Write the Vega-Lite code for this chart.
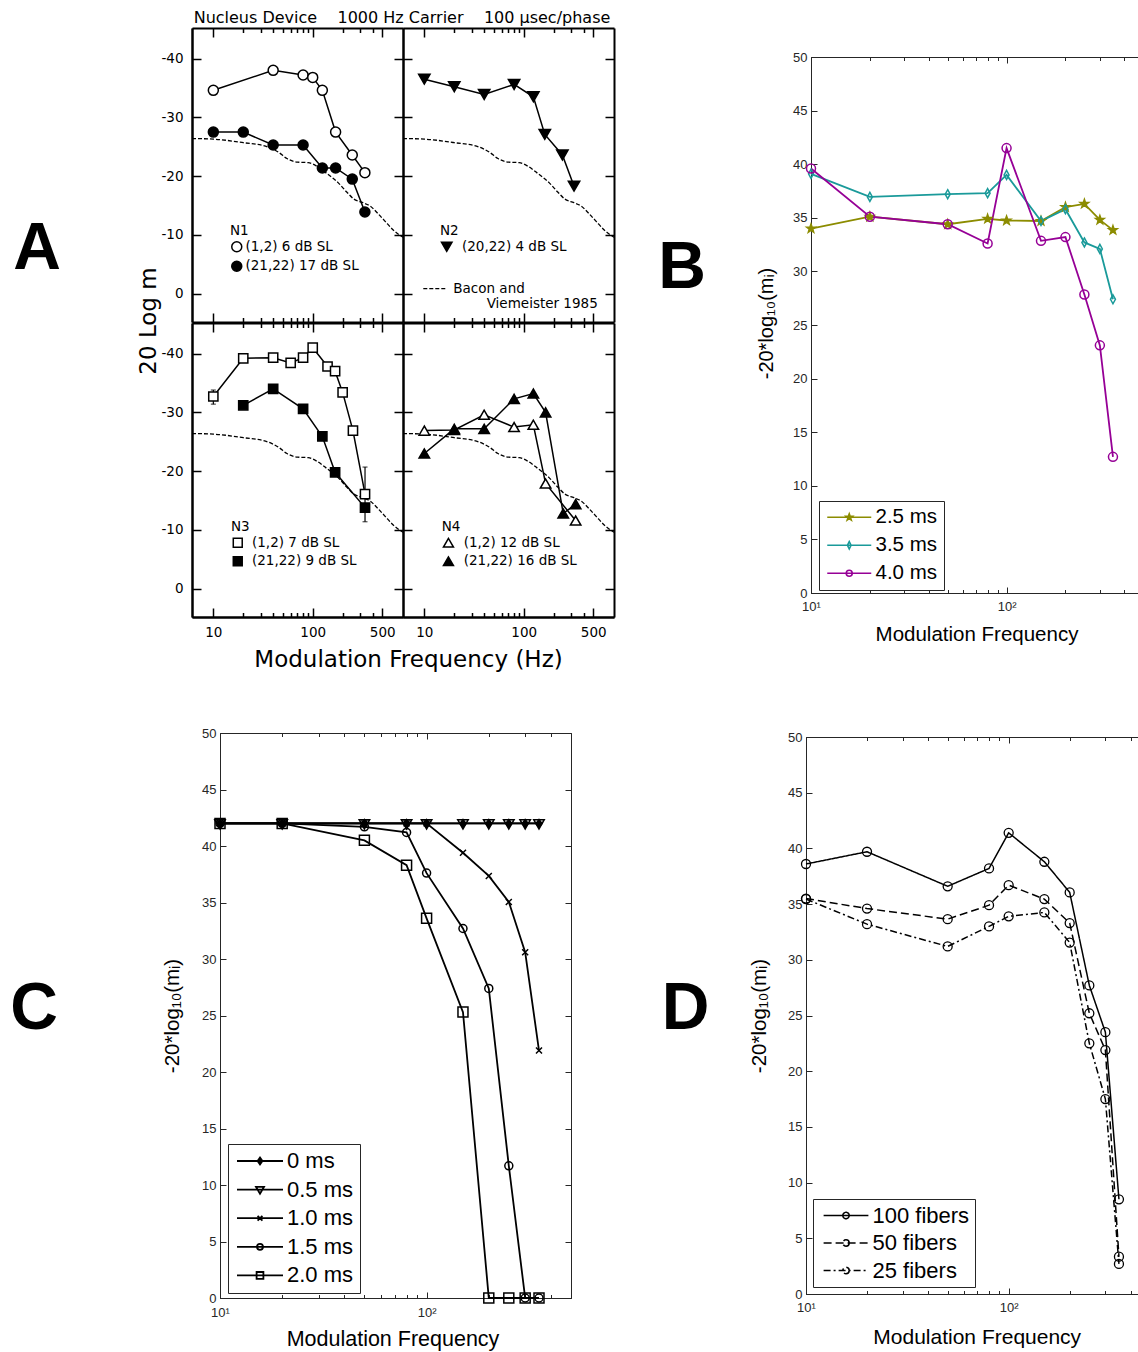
{
"$schema": "https://vega.github.io/schema/vega-lite/v6.json",
"width": 1138, "height": 1352,
"autosize": {"type": "none"},
"padding": 0,
"background": "white",
"config": {"view": {"stroke": null}, "axis": {"grid": false}},
"datasets": {
"bv": [{"f":6.1,"v":-26.4},{"f":10,"v":-26.3},{"f":20,"v":-25.7},{"f":35,"v":-25.0},{"f":45,"v":-24.1},{"f":55,"v":-23.0},{"f":70,"v":-22.4},{"f":90,"v":-22.3},{"f":110,"v":-21.7},{"f":140,"v":-20.4},{"f":180,"v":-18.9},{"f":220,"v":-17.3},{"f":260,"v":-16.1},{"f":320,"v":-15.5},{"f":380,"v":-14.9},{"f":450,"v":-13.7},{"f":530,"v":-12.4},{"f":650,"v":-10.8},{"f":810,"v":-9.6}],
"n1": [{"f":10,"v":-34.6,"s":"(1,2) 6 dB SL"},{"f":40,"v":-38.0,"s":"(1,2) 6 dB SL"},{"f":80,"v":-37.2,"s":"(1,2) 6 dB SL"},{"f":100,"v":-36.8,"s":"(1,2) 6 dB SL"},{"f":125,"v":-34.6,"s":"(1,2) 6 dB SL"},{"f":170,"v":-27.5,"s":"(1,2) 6 dB SL"},{"f":250,"v":-23.6,"s":"(1,2) 6 dB SL"},{"f":335,"v":-20.6,"s":"(1,2) 6 dB SL"},
{"f":10,"v":-27.5,"s":"(21,22) 17 dB SL"},{"f":20,"v":-27.5,"s":"(21,22) 17 dB SL"},{"f":40,"v":-25.3,"s":"(21,22) 17 dB SL"},{"f":80,"v":-25.3,"s":"(21,22) 17 dB SL"},{"f":125,"v":-21.4,"s":"(21,22) 17 dB SL"},{"f":170,"v":-21.4,"s":"(21,22) 17 dB SL"},{"f":250,"v":-19.5,"s":"(21,22) 17 dB SL"},{"f":335,"v":-13.9,"s":"(21,22) 17 dB SL"}],
"n2": [{"f":10,"v":-36.5,"s":"(20,22) 4 dB SL"},{"f":20,"v":-35.2,"s":"(20,22) 4 dB SL"},{"f":40,"v":-33.9,"s":"(20,22) 4 dB SL"},{"f":80,"v":-35.6,"s":"(20,22) 4 dB SL"},{"f":125,"v":-33.5,"s":"(20,22) 4 dB SL"},{"f":163,"v":-27.1,"s":"(20,22) 4 dB SL"},{"f":245,"v":-23.6,"s":"(20,22) 4 dB SL"},{"f":321,"v":-18.3,"s":"(20,22) 4 dB SL"}],
"n3": [{"f":10,"v":-32.7,"s":"(1,2) 7 dB SL"},{"f":20,"v":-39.2,"s":"(1,2) 7 dB SL"},{"f":40,"v":-39.3,"s":"(1,2) 7 dB SL"},{"f":60,"v":-38.4,"s":"(1,2) 7 dB SL"},{"f":80,"v":-39.3,"s":"(1,2) 7 dB SL"},{"f":100,"v":-41.0,"s":"(1,2) 7 dB SL"},{"f":141,"v":-37.8,"s":"(1,2) 7 dB SL"},{"f":168,"v":-37.0,"s":"(1,2) 7 dB SL"},{"f":200,"v":-33.4,"s":"(1,2) 7 dB SL"},{"f":254,"v":-26.9,"s":"(1,2) 7 dB SL"},{"f":336,"v":-16.1,"s":"(1,2) 7 dB SL"},
{"f":20,"v":-31.2,"s":"(21,22) 9 dB SL"},{"f":40,"v":-34.0,"s":"(21,22) 9 dB SL"},{"f":80,"v":-30.6,"s":"(21,22) 9 dB SL"},{"f":125,"v":-25.9,"s":"(21,22) 9 dB SL"},{"f":168,"v":-19.8,"s":"(21,22) 9 dB SL"},{"f":336,"v":-13.8,"s":"(21,22) 9 dB SL"}],
"n3err": [{"f":10,"lo":-33.8,"hi":-31.4},{"f":336,"lo":-20.7,"hi":-11.4}],
"n4": [{"f":10,"v":-26.9,"s":"(1,2) 12 dB SL"},{"f":20,"v":-27.0,"s":"(1,2) 12 dB SL"},{"f":40,"v":-29.6,"s":"(1,2) 12 dB SL"},{"f":80,"v":-27.5,"s":"(1,2) 12 dB SL"},{"f":125,"v":-27.9,"s":"(1,2) 12 dB SL"},{"f":166,"v":-17.9,"s":"(1,2) 12 dB SL"},{"f":333,"v":-11.6,"s":"(1,2) 12 dB SL"},
{"f":10,"v":-23.0,"s":"(21,22) 16 dB SL"},{"f":20,"v":-27.2,"s":"(21,22) 16 dB SL"},{"f":40,"v":-27.2,"s":"(21,22) 16 dB SL"},{"f":80,"v":-32.3,"s":"(21,22) 16 dB SL"},{"f":125,"v":-33.2,"s":"(21,22) 16 dB SL"},{"f":166,"v":-30.0,"s":"(21,22) 16 dB SL"},{"f":250,"v":-12.8,"s":"(21,22) 16 dB SL"},{"f":333,"v":-14.4,"s":"(21,22) 16 dB SL"}],
"b": [{"f":10,"v":34.0,"s":"2.5 ms"},{"f":20,"v":35.1,"s":"2.5 ms"},{"f":50,"v":34.4,"s":"2.5 ms"},{"f":80,"v":34.9,"s":"2.5 ms"},{"f":100,"v":34.75,"s":"2.5 ms"},{"f":150,"v":34.7,"s":"2.5 ms"},{"f":200,"v":36.0,"s":"2.5 ms"},{"f":250,"v":36.3,"s":"2.5 ms"},{"f":300,"v":34.8,"s":"2.5 ms"},{"f":350,"v":33.85,"s":"2.5 ms"},
{"f":10,"v":39.1,"s":"3.5 ms"},{"f":20,"v":36.95,"s":"3.5 ms"},{"f":50,"v":37.2,"s":"3.5 ms"},{"f":80,"v":37.3,"s":"3.5 ms"},{"f":100,"v":39.0,"s":"3.5 ms"},{"f":150,"v":34.7,"s":"3.5 ms"},{"f":200,"v":35.8,"s":"3.5 ms"},{"f":250,"v":32.7,"s":"3.5 ms"},{"f":300,"v":32.1,"s":"3.5 ms"},{"f":350,"v":27.4,"s":"3.5 ms"},
{"f":10,"v":39.6,"s":"4.0 ms"},{"f":20,"v":35.1,"s":"4.0 ms"},{"f":50,"v":34.4,"s":"4.0 ms"},{"f":80,"v":32.6,"s":"4.0 ms"},{"f":100,"v":41.5,"s":"4.0 ms"},{"f":150,"v":32.85,"s":"4.0 ms"},{"f":200,"v":33.2,"s":"4.0 ms"},{"f":250,"v":27.85,"s":"4.0 ms"},{"f":300,"v":23.1,"s":"4.0 ms"},{"f":350,"v":12.7,"s":"4.0 ms"}],
"c": [{"f":10,"v":42,"s":"0 ms"},{"f":20,"v":42,"s":"0 ms"},{"f":50,"v":42,"s":"0 ms"},{"f":80,"v":42,"s":"0 ms"},{"f":100,"v":42,"s":"0 ms"},{"f":150,"v":42,"s":"0 ms"},{"f":200,"v":42,"s":"0 ms"},{"f":250,"v":42,"s":"0 ms"},{"f":300,"v":42,"s":"0 ms"},{"f":350,"v":42,"s":"0 ms"},
{"f":10,"v":42,"s":"0.5 ms"},{"f":20,"v":42,"s":"0.5 ms"},{"f":50,"v":42,"s":"0.5 ms"},{"f":80,"v":42,"s":"0.5 ms"},{"f":100,"v":42,"s":"0.5 ms"},{"f":150,"v":42,"s":"0.5 ms"},{"f":200,"v":42,"s":"0.5 ms"},{"f":250,"v":42,"s":"0.5 ms"},{"f":300,"v":42,"s":"0.5 ms"},{"f":350,"v":42,"s":"0.5 ms"},
{"f":10,"v":42,"s":"1.0 ms"},{"f":20,"v":42,"s":"1.0 ms"},{"f":50,"v":42,"s":"1.0 ms"},{"f":80,"v":42,"s":"1.0 ms"},{"f":100,"v":42,"s":"1.0 ms"},{"f":150,"v":39.4,"s":"1.0 ms"},{"f":200,"v":37.35,"s":"1.0 ms"},{"f":250,"v":35.05,"s":"1.0 ms"},{"f":300,"v":30.6,"s":"1.0 ms"},{"f":350,"v":21.9,"s":"1.0 ms"},
{"f":10,"v":42,"s":"1.5 ms"},{"f":20,"v":42,"s":"1.5 ms"},{"f":50,"v":41.7,"s":"1.5 ms"},{"f":80,"v":41.2,"s":"1.5 ms"},{"f":100,"v":37.6,"s":"1.5 ms"},{"f":150,"v":32.7,"s":"1.5 ms"},{"f":200,"v":27.4,"s":"1.5 ms"},{"f":250,"v":11.7,"s":"1.5 ms"},{"f":300,"v":0,"s":"1.5 ms"},{"f":350,"v":0,"s":"1.5 ms"},
{"f":10,"v":42,"s":"2.0 ms"},{"f":20,"v":42,"s":"2.0 ms"},{"f":50,"v":40.5,"s":"2.0 ms"},{"f":80,"v":38.3,"s":"2.0 ms"},{"f":100,"v":33.6,"s":"2.0 ms"},{"f":150,"v":25.3,"s":"2.0 ms"},{"f":200,"v":0,"s":"2.0 ms"},{"f":250,"v":0,"s":"2.0 ms"},{"f":300,"v":0,"s":"2.0 ms"},{"f":350,"v":0,"s":"2.0 ms"}],
"d": [{"f":10,"v":38.6,"s":"100 fibers"},{"f":20,"v":39.7,"s":"100 fibers"},{"f":50,"v":36.6,"s":"100 fibers"},{"f":80,"v":38.2,"s":"100 fibers"},{"f":100,"v":41.4,"s":"100 fibers"},{"f":150,"v":38.8,"s":"100 fibers"},{"f":200,"v":36.05,"s":"100 fibers"},{"f":250,"v":27.7,"s":"100 fibers"},{"f":300,"v":23.5,"s":"100 fibers"},{"f":350,"v":8.5,"s":"100 fibers"},
{"f":10,"v":35.5,"s":"50 fibers"},{"f":20,"v":34.6,"s":"50 fibers"},{"f":50,"v":33.65,"s":"50 fibers"},{"f":80,"v":34.9,"s":"50 fibers"},{"f":100,"v":36.7,"s":"50 fibers"},{"f":150,"v":35.45,"s":"50 fibers"},{"f":200,"v":33.3,"s":"50 fibers"},{"f":250,"v":25.2,"s":"50 fibers"},{"f":300,"v":21.9,"s":"50 fibers"},{"f":350,"v":3.35,"s":"50 fibers"},
{"f":10,"v":35.45,"s":"25 fibers"},{"f":20,"v":33.2,"s":"25 fibers"},{"f":50,"v":31.2,"s":"25 fibers"},{"f":80,"v":33.0,"s":"25 fibers"},{"f":100,"v":33.9,"s":"25 fibers"},{"f":150,"v":34.25,"s":"25 fibers"},{"f":200,"v":31.55,"s":"25 fibers"},{"f":250,"v":22.5,"s":"25 fibers"},{"f":300,"v":17.5,"s":"25 fibers"},{"f":350,"v":2.7,"s":"25 fibers"}]
},
"layer": [
{"data":{"name":"bv"},"mark":{"type":"line","interpolate":"monotone","strokeDash":[4,2],"color":"black","strokeWidth":1.3},
 "encoding":{
  "x":{"field":"f","type":"quantitative","scale":{"type":"log","domain":[6.1,810],"range":[192,403],"nice":false},
   "axis":{"orient":"bottom","offset":-1030,"values":[10,20,30,40,50,60,70,80,90,100,200,300,400,500],"labels":false,"ticks":true,"tickColor":"black","tickWidth":1.5,"tickSize":{"condition":{"test":"datum.value == 10 || datum.value == 100 || datum.value == 500","value":-9},"value":-4.5},"domain":true,"domainColor":"black","domainWidth":2,"grid":false,"title":null}},
  "y":{"field":"v","type":"quantitative","scale":{"type":"linear","domain":[-45.2,4.8],"range":[28,322],"nice":false,"zero":false},
   "axis":{"orient":"left","offset":-192,"values":[-40,-30,-20,-10,0],"labels":true,"ticks":false,"labelExpr":"datum.value == 0 ? '0' : '-' + abs(datum.value)","labelFont":"DejaVu Sans","labelFontSize":13.5,"labelColor":"black","labelPadding":9,"labelFlush":false,"labelOverlap":false,"domain":true,"domainColor":"black","domainWidth":2,"grid":false,
    "title":"20 Log m","titleFont":"DejaVu Sans","titleFontSize":23,"titleFontWeight":"normal","titleColor":"black","titleAngle":270,"titleX":-37,"titleY":320.5,"titleAlign":"center","titleBaseline":"alphabetic"}}}},
{"data":{"name":"n1"},"mark":{"type":"line","color":"black","strokeWidth":1.5},
 "encoding":{
  "x":{"field":"f","type":"quantitative","scale":{"type":"log","domain":[6.1,810],"range":[192,403],"nice":false},
   "axis":{"orient":"top","offset":-28,"values":[10,20,30,40,50,60,70,80,90,100,200,300,400,500],"labels":false,"ticks":true,"tickColor":"black","tickWidth":1.5,"tickSize":{"condition":{"test":"datum.value == 10 || datum.value == 100 || datum.value == 500","value":-9},"value":-4.5},"domain":true,"domainColor":"black","domainWidth":2,"grid":false,
    "title":"Nucleus Device \u00a0\u00a0\u00a01000 Hz Carrier \u00a0\u00a0\u00a0100 µsec/phase","titleFont":"DejaVu Sans","titleFontSize":16,"titleFontWeight":"normal","titleColor":"black","titleAngle":0,"titleX":401.5,"titleY":-5.3,"titleAlign":"center","titleBaseline":"alphabetic"}},
  "y":{"field":"v","type":"quantitative","scale":{"type":"linear","domain":[-45.2,4.8],"range":[28,322],"nice":false,"zero":false},
   "axis":{"orient":"left","offset":-192,"values":[-40,-30,-20,-10,0],"labels":false,"ticks":true,"tickColor":"black","tickWidth":1.5,"tickSize":-9,"domain":true,"domainColor":"black","domainWidth":2,"grid":false,"title":null}},
  "detail":{"field":"s"}}},
{"data":{"name":"n1"},"mark":{"type":"point","strokeWidth":1.5,"size":100,"opacity":1},
 "encoding":{
  "x":{"field":"f","type":"quantitative","scale":{"type":"log","domain":[6.1,810],"range":[192,403],"nice":false},"axis":null},
  "y":{"field":"v","type":"quantitative","scale":{"type":"linear","domain":[-45.2,4.8],"range":[28,322],"nice":false,"zero":false},
   "axis":{"orient":"right","offset":-735,"values":[-40,-30,-20,-10,0],"labels":false,"ticks":true,"tickColor":"black","tickWidth":1.5,"tickSize":-9,"domain":true,"domainColor":"black","domainWidth":2,"grid":false,
    "title":"A","titleFont":"Liberation Sans","titleFontSize":66,"titleFontWeight":"bold","titleColor":"black","titleAngle":0,"titleX":-366.5,"titleY":268.3,"titleAlign":"center","titleBaseline":"alphabetic"}},
  "stroke":{"field":"s","type":"nominal","scale":{"domain":["(1,2) 6 dB SL","(21,22) 17 dB SL"],"range":["black","black"]},
   "legend":{"orient":"none","legendX":230,"legendY":224,"title":"N1","titleFont":"DejaVu Sans","titleFontSize":13.5,"titleFontWeight":"normal","titleColor":"black","titlePadding":2.5,"padding":0,"labelFont":"DejaVu Sans","labelFontSize":13.5,"labelColor":"black","labelOffset":2,"rowPadding":2.5,"symbolSize":100,"symbolStrokeWidth":1.5}},
  "fill":{"field":"s","type":"nominal","scale":{"domain":["(1,2) 6 dB SL","(21,22) 17 dB SL"],"range":["white","black"]},
   "legend":{"orient":"none","legendX":230,"legendY":224,"title":"N1","titleFont":"DejaVu Sans","titleFontSize":13.5,"titleFontWeight":"normal","titleColor":"black","titlePadding":2.5,"padding":0,"labelFont":"DejaVu Sans","labelFontSize":13.5,"labelColor":"black","labelOffset":2,"rowPadding":2.5,"symbolSize":100,"symbolStrokeWidth":1.5}},
  "shape":{"field":"s","type":"nominal","scale":{"domain":["(1,2) 6 dB SL","(21,22) 17 dB SL"],"range":["circle","circle"]},
   "legend":{"orient":"none","legendX":230,"legendY":224,"title":"N1","titleFont":"DejaVu Sans","titleFontSize":13.5,"titleFontWeight":"normal","titleColor":"black","titlePadding":2.5,"padding":0,"labelFont":"DejaVu Sans","labelFontSize":13.5,"labelColor":"black","labelOffset":2,"rowPadding":2.5,"symbolSize":100,"symbolStrokeWidth":1.5}}}},

{"data":{"name":"bv"},"mark":{"type":"line","interpolate":"monotone","strokeDash":[4,2],"color":"black","strokeWidth":1.3},
 "encoding":{
  "x":{"field":"f","type":"quantitative","scale":{"type":"log","domain":[6.1,810],"range":[403,614],"nice":false},
   "axis":{"orient":"bottom","offset":-1030,"values":[10,20,30,40,50,60,70,80,90,100,200,300,400,500],"labels":false,"ticks":true,"tickColor":"black","tickWidth":1.5,"tickSize":{"condition":{"test":"datum.value == 10 || datum.value == 100 || datum.value == 500","value":-9},"value":-4.5},"domain":true,"domainColor":"black","domainWidth":2,"grid":false,"title":null}},
  "y":{"field":"v","type":"quantitative","scale":{"type":"linear","domain":[-45.2,4.8],"range":[28,322],"nice":false,"zero":false},
   "axis":{"orient":"left","offset":-403,"values":[-40,-30,-20,-10,0],"labels":false,"ticks":true,"tickColor":"black","tickWidth":1.5,"tickSize":-9,"domain":true,"domainColor":"black","domainWidth":2,"grid":false,"title":null}}}},
{"data":{"name":"n2"},"mark":{"type":"line","color":"black","strokeWidth":1.5},
 "encoding":{
  "x":{"field":"f","type":"quantitative","scale":{"type":"log","domain":[6.1,810],"range":[403,614],"nice":false},
   "axis":{"orient":"top","offset":-28,"values":[10,20,30,40,50,60,70,80,90,100,200,300,400,500],"labels":false,"ticks":true,"tickColor":"black","tickWidth":1.5,"tickSize":{"condition":{"test":"datum.value == 10 || datum.value == 100 || datum.value == 500","value":-9},"value":-4.5},"domain":true,"domainColor":"black","domainWidth":2,"grid":false,"title":null}},
  "y":{"field":"v","type":"quantitative","scale":{"type":"linear","domain":[-45.2,4.8],"range":[28,322],"nice":false,"zero":false},
   "axis":{"orient":"right","offset":-524,"values":[-40,-30,-20,-10,0],"labels":false,"ticks":true,"tickColor":"black","tickWidth":1.5,"tickSize":-9,"domain":true,"domainColor":"black","domainWidth":2,"grid":false,"title":null}}}},
{"data":{"name":"n2"},"mark":{"type":"point","strokeWidth":1.5,"size":130,"opacity":1},
 "encoding":{
  "x":{"field":"f","type":"quantitative","scale":{"type":"log","domain":[6.1,810],"range":[403,614],"nice":false},"axis":null},
  "y":{"field":"v","type":"quantitative","scale":{"type":"linear","domain":[-45.2,4.8],"range":[28,322],"nice":false,"zero":false},"axis":null},
  "stroke":{"field":"s","type":"nominal","scale":{"domain":["(20,22) 4 dB SL"],"range":["black"]},
   "legend":{"orient":"none","legendX":440,"legendY":224,"title":"N2","titleFont":"DejaVu Sans","titleFontSize":13.5,"titleFontWeight":"normal","titleColor":"black","titlePadding":2.5,"padding":0,"labelFont":"DejaVu Sans","labelFontSize":13.5,"labelColor":"black","labelOffset":8.5,"rowPadding":2.5,"symbolSize":110,"symbolStrokeWidth":1.5}},
  "fill":{"field":"s","type":"nominal","scale":{"domain":["(20,22) 4 dB SL"],"range":["black"]},
   "legend":{"orient":"none","legendX":440,"legendY":224,"title":"N2","titleFont":"DejaVu Sans","titleFontSize":13.5,"titleFontWeight":"normal","titleColor":"black","titlePadding":2.5,"padding":0,"labelFont":"DejaVu Sans","labelFontSize":13.5,"labelColor":"black","labelOffset":8.5,"rowPadding":2.5,"symbolSize":110,"symbolStrokeWidth":1.5}},
  "shape":{"field":"s","type":"nominal","scale":{"domain":["(20,22) 4 dB SL"],"range":["triangle-down"]},
   "legend":{"orient":"none","legendX":440,"legendY":224,"title":"N2","titleFont":"DejaVu Sans","titleFontSize":13.5,"titleFontWeight":"normal","titleColor":"black","titlePadding":2.5,"padding":0,"labelFont":"DejaVu Sans","labelFontSize":13.5,"labelColor":"black","labelOffset":8.5,"rowPadding":2.5,"symbolSize":110,"symbolStrokeWidth":1.5}}}},
{"data":{"values":[{}]},"mark":{"type":"rule","strokeDash":[4,2],"color":"black","strokeWidth":1.3},
 "encoding":{
  "x":{"datum":9.76,"type":"quantitative","scale":{"type":"log","domain":[6.1,810],"range":[403,614],"nice":false},"axis":null},
  "x2":{"datum":16.8},
  "y":{"datum":-0.86,"type":"quantitative","scale":{"type":"linear","domain":[-45.2,4.8],"range":[28,322],"nice":false,"zero":false},"axis":null}}},
{"data":{"values":[{}]},"mark":{"type":"text","align":"left","baseline":"middle","font":"DejaVu Sans","fontSize":13.5,"color":"black","text":"Bacon and"},
 "encoding":{
  "x":{"datum":19.56,"type":"quantitative","scale":{"type":"log","domain":[6.1,810],"range":[403,614],"nice":false},"axis":null},
  "y":{"datum":-0.76,"type":"quantitative","scale":{"type":"linear","domain":[-45.2,4.8],"range":[28,322],"nice":false,"zero":false},"axis":null}}},
{"data":{"values":[{}]},"mark":{"type":"text","align":"left","baseline":"middle","font":"DejaVu Sans","fontSize":13.5,"color":"black","text":"Viemeister 1985"},
 "encoding":{
  "x":{"datum":42.4,"type":"quantitative","scale":{"type":"log","domain":[6.1,810],"range":[403,614],"nice":false},"axis":null},
  "y":{"datum":1.74,"type":"quantitative","scale":{"type":"linear","domain":[-45.2,4.8],"range":[28,322],"nice":false,"zero":false},"axis":null}}},

{"data":{"name":"bv"},"mark":{"type":"line","interpolate":"monotone","strokeDash":[4,2],"color":"black","strokeWidth":1.3},
 "encoding":{
  "x":{"field":"f","type":"quantitative","scale":{"type":"log","domain":[6.1,810],"range":[192,403],"nice":false},
   "axis":{"orient":"bottom","offset":-735,"values":[10,100,500],"labels":true,"ticks":false,"labelExpr":"format(datum.value, 'd')","labelFont":"DejaVu Sans","labelFontSize":13.5,"labelColor":"black","labelPadding":8,"labelFlush":false,"labelOverlap":false,"domain":true,"domainColor":"black","domainWidth":2,"grid":false,
    "title":"Modulation Frequency (Hz)","titleFont":"DejaVu Sans","titleFontSize":23,"titleFontWeight":"normal","titleColor":"black","titleAngle":0,"titleX":408,"titleY":49.7,"titleAlign":"center","titleBaseline":"alphabetic"}},
  "y":{"field":"v","type":"quantitative","scale":{"type":"linear","domain":[-45.2,4.8],"range":[323,617],"nice":false,"zero":false},
   "axis":{"orient":"left","offset":-192,"values":[-40,-30,-20,-10,0],"labels":true,"ticks":false,"labelExpr":"datum.value == 0 ? '0' : '-' + abs(datum.value)","labelFont":"DejaVu Sans","labelFontSize":13.5,"labelColor":"black","labelPadding":9,"labelFlush":false,"labelOverlap":false,"domain":true,"domainColor":"black","domainWidth":2,"grid":false,"title":null}}}},
{"data":{"name":"n3"},"mark":{"type":"line","color":"black","strokeWidth":1.5},
 "encoding":{
  "x":{"field":"f","type":"quantitative","scale":{"type":"log","domain":[6.1,810],"range":[192,403],"nice":false},
   "axis":{"orient":"bottom","offset":-735,"values":[10,20,30,40,50,60,70,80,90,100,200,300,400,500],"labels":false,"ticks":true,"tickColor":"black","tickWidth":1.5,"tickSize":{"condition":{"test":"datum.value == 10 || datum.value == 100 || datum.value == 500","value":-9},"value":-4.5},"domain":true,"domainColor":"black","domainWidth":2,"grid":false,"title":null}},
  "y":{"field":"v","type":"quantitative","scale":{"type":"linear","domain":[-45.2,4.8],"range":[323,617],"nice":false,"zero":false},
   "axis":{"orient":"left","offset":-192,"values":[-40,-30,-20,-10,0],"labels":false,"ticks":true,"tickColor":"black","tickWidth":1.5,"tickSize":-9,"domain":true,"domainColor":"black","domainWidth":2,"grid":false,"title":null}},
  "detail":{"field":"s"}}},
{"data":{"name":"n3err"},"mark":{"type":"errorbar","ticks":true,"color":"black","thickness":1.2},
 "encoding":{
  "x":{"field":"f","type":"quantitative","scale":{"type":"log","domain":[6.1,810],"range":[192,403],"nice":false},"axis":null},
  "y":{"field":"lo","type":"quantitative","scale":{"type":"linear","domain":[-45.2,4.8],"range":[323,617],"nice":false,"zero":false},"axis":null},
  "y2":{"field":"hi"}}},
{"data":{"name":"n3"},"mark":{"type":"point","strokeWidth":1.5,"size":85,"opacity":1},
 "encoding":{
  "x":{"field":"f","type":"quantitative","scale":{"type":"log","domain":[6.1,810],"range":[192,403],"nice":false},
   "axis":{"orient":"top","offset":-323,"values":[10,20,30,40,50,60,70,80,90,100,200,300,400,500],"labels":false,"ticks":true,"tickColor":"black","tickWidth":1.5,"tickSize":{"condition":{"test":"datum.value == 10 || datum.value == 100 || datum.value == 500","value":-9},"value":-4.5},"domain":true,"domainColor":"black","domainWidth":2,"grid":false,"title":null}},
  "y":{"field":"v","type":"quantitative","scale":{"type":"linear","domain":[-45.2,4.8],"range":[323,617],"nice":false,"zero":false},
   "axis":{"orient":"right","offset":-735,"values":[-40,-30,-20,-10,0],"labels":false,"ticks":true,"tickColor":"black","tickWidth":1.5,"tickSize":-9,"domain":true,"domainColor":"black","domainWidth":2,"grid":false,"title":null}},
  "stroke":{"field":"s","type":"nominal","scale":{"domain":["(1,2) 7 dB SL","(21,22) 9 dB SL"],"range":["black","black"]},
   "legend":{"orient":"none","legendX":231,"legendY":520,"title":"N3","titleFont":"DejaVu Sans","titleFontSize":13.5,"titleFontWeight":"normal","titleColor":"black","titlePadding":2.5,"padding":0,"labelFont":"DejaVu Sans","labelFontSize":13.5,"labelColor":"black","labelOffset":7.5,"rowPadding":2.5,"symbolSize":80,"symbolStrokeWidth":1.5}},
  "fill":{"field":"s","type":"nominal","scale":{"domain":["(1,2) 7 dB SL","(21,22) 9 dB SL"],"range":["white","black"]},
   "legend":{"orient":"none","legendX":231,"legendY":520,"title":"N3","titleFont":"DejaVu Sans","titleFontSize":13.5,"titleFontWeight":"normal","titleColor":"black","titlePadding":2.5,"padding":0,"labelFont":"DejaVu Sans","labelFontSize":13.5,"labelColor":"black","labelOffset":7.5,"rowPadding":2.5,"symbolSize":80,"symbolStrokeWidth":1.5}},
  "shape":{"field":"s","type":"nominal","scale":{"domain":["(1,2) 7 dB SL","(21,22) 9 dB SL"],"range":["square","square"]},
   "legend":{"orient":"none","legendX":231,"legendY":520,"title":"N3","titleFont":"DejaVu Sans","titleFontSize":13.5,"titleFontWeight":"normal","titleColor":"black","titlePadding":2.5,"padding":0,"labelFont":"DejaVu Sans","labelFontSize":13.5,"labelColor":"black","labelOffset":7.5,"rowPadding":2.5,"symbolSize":80,"symbolStrokeWidth":1.5}}}},

{"data":{"name":"bv"},"mark":{"type":"line","interpolate":"monotone","strokeDash":[4,2],"color":"black","strokeWidth":1.3},
 "encoding":{
  "x":{"field":"f","type":"quantitative","scale":{"type":"log","domain":[6.1,810],"range":[403,614],"nice":false},
   "axis":{"orient":"bottom","offset":-735,"values":[10,100,500],"labels":true,"ticks":false,"labelExpr":"format(datum.value, 'd')","labelFont":"DejaVu Sans","labelFontSize":13.5,"labelColor":"black","labelPadding":8,"labelFlush":false,"labelOverlap":false,"domain":true,"domainColor":"black","domainWidth":2,"grid":false,"title":null}},
  "y":{"field":"v","type":"quantitative","scale":{"type":"linear","domain":[-45.2,4.8],"range":[323,617],"nice":false,"zero":false},
   "axis":{"orient":"left","offset":-403,"values":[-40,-30,-20,-10,0],"labels":false,"ticks":true,"tickColor":"black","tickWidth":1.5,"tickSize":-9,"domain":true,"domainColor":"black","domainWidth":2,"grid":false,"title":null}}}},
{"data":{"name":"n4"},"mark":{"type":"line","color":"black","strokeWidth":1.5},
 "encoding":{
  "x":{"field":"f","type":"quantitative","scale":{"type":"log","domain":[6.1,810],"range":[403,614],"nice":false},
   "axis":{"orient":"bottom","offset":-735,"values":[10,20,30,40,50,60,70,80,90,100,200,300,400,500],"labels":false,"ticks":true,"tickColor":"black","tickWidth":1.5,"tickSize":{"condition":{"test":"datum.value == 10 || datum.value == 100 || datum.value == 500","value":-9},"value":-4.5},"domain":true,"domainColor":"black","domainWidth":2,"grid":false,"title":null}},
  "y":{"field":"v","type":"quantitative","scale":{"type":"linear","domain":[-45.2,4.8],"range":[323,617],"nice":false,"zero":false},
   "axis":{"orient":"right","offset":-524,"values":[-40,-30,-20,-10,0],"labels":false,"ticks":true,"tickColor":"black","tickWidth":1.5,"tickSize":-9,"domain":true,"domainColor":"black","domainWidth":2,"grid":false,"title":null}},
  "detail":{"field":"s"}}},
{"data":{"name":"n4"},"mark":{"type":"point","strokeWidth":1.5,"size":110,"opacity":1},
 "encoding":{
  "x":{"field":"f","type":"quantitative","scale":{"type":"log","domain":[6.1,810],"range":[403,614],"nice":false},
   "axis":{"orient":"top","offset":-323,"values":[10,20,30,40,50,60,70,80,90,100,200,300,400,500],"labels":false,"ticks":true,"tickColor":"black","tickWidth":1.5,"tickSize":{"condition":{"test":"datum.value == 10 || datum.value == 100 || datum.value == 500","value":-9},"value":-4.5},"domain":true,"domainColor":"black","domainWidth":2,"grid":false,"title":null}},
  "y":{"field":"v","type":"quantitative","scale":{"type":"linear","domain":[-45.2,4.8],"range":[323,617],"nice":false,"zero":false},"axis":null},
  "stroke":{"field":"s","type":"nominal","scale":{"domain":["(1,2) 12 dB SL","(21,22) 16 dB SL"],"range":["black","black"]},
   "legend":{"orient":"none","legendX":441.7,"legendY":520,"title":"N4","titleFont":"DejaVu Sans","titleFontSize":13.5,"titleFontWeight":"normal","titleColor":"black","titlePadding":2.5,"padding":0,"labelFont":"DejaVu Sans","labelFontSize":13.5,"labelColor":"black","labelOffset":8.5,"rowPadding":2.5,"symbolSize":100,"symbolStrokeWidth":1.5}},
  "fill":{"field":"s","type":"nominal","scale":{"domain":["(1,2) 12 dB SL","(21,22) 16 dB SL"],"range":["white","black"]},
   "legend":{"orient":"none","legendX":441.7,"legendY":520,"title":"N4","titleFont":"DejaVu Sans","titleFontSize":13.5,"titleFontWeight":"normal","titleColor":"black","titlePadding":2.5,"padding":0,"labelFont":"DejaVu Sans","labelFontSize":13.5,"labelColor":"black","labelOffset":8.5,"rowPadding":2.5,"symbolSize":100,"symbolStrokeWidth":1.5}},
  "shape":{"field":"s","type":"nominal","scale":{"domain":["(1,2) 12 dB SL","(21,22) 16 dB SL"],"range":["triangle-up","triangle-up"]},
   "legend":{"orient":"none","legendX":441.7,"legendY":520,"title":"N4","titleFont":"DejaVu Sans","titleFontSize":13.5,"titleFontWeight":"normal","titleColor":"black","titlePadding":2.5,"padding":0,"labelFont":"DejaVu Sans","labelFontSize":13.5,"labelColor":"black","labelOffset":8.5,"rowPadding":2.5,"symbolSize":100,"symbolStrokeWidth":1.5}}}},

{"data":{"name":"b"},"mark":{"type":"line","strokeWidth":1.8},
 "encoding":{
  "x":{"field":"f","type":"quantitative","scale":{"type":"log","domain":[10,470],"range":[811,1138],"nice":false},
   "axis":{"orient":"bottom","offset":-759,"values":[10,100],"ticks":false,"labels":true,"labelExpr":"datum.value == 10 ? '10¹' : '10²'","labelFont":"Liberation Sans","labelFontSize":13,"labelColor":"#262626","labelPadding":7,"labelFlush":false,"labelOverlap":false,"domain":true,"domainColor":"#262626","domainWidth":1,"grid":false,
    "title":"Modulation Frequency","titleFont":"Liberation Sans","titleFontSize":20.5,"titleFontWeight":"normal","titleColor":"black","titleAngle":0,"titleX":976.5,"titleY":47,"titleAlign":"center","titleBaseline":"alphabetic"}},
  "y":{"field":"v","type":"quantitative","scale":{"type":"linear","domain":[0,50],"range":[593,57],"nice":false,"zero":false},
   "axis":{"orient":"left","offset":-811,"values":[0,5,10,15,20,25,30,35,40,45,50],"ticks":false,"labels":true,"labelFont":"Liberation Sans","labelFontSize":13,"labelColor":"#262626","labelPadding":4,"labelFlush":false,"labelOverlap":false,"domain":true,"domainColor":"#262626","domainWidth":1,"grid":false,
    "title":"-20*log₁₀(mᵢ)","titleFont":"Liberation Sans","titleFontSize":20,"titleFontWeight":"normal","titleColor":"black","titleAngle":270,"titleX":-39,"titleY":323,"titleAlign":"center","titleBaseline":"alphabetic"}},
  "stroke":{"field":"s","type":"nominal","scale":{"domain":["2.5 ms","3.5 ms","4.0 ms"],"range":["#8c8c00","#1a9a9a","#960096"]},
   "legend":{"orient":"none","legendX":819,"legendY":501,"title":null,"padding":6,"strokeColor":"#262626","fillColor":"white","rowPadding":7,"labelFont":"Liberation Sans","labelFontSize":20.5,"labelColor":"black","labelOffset":16,"symbolOffset":14,"symbolSize":64,"symbolStrokeWidth":1.6,
    "encode":{"symbols":{"update":{"shape":{"signal":"datum.value == '2.5 ms' ? 'M-5.5,0H5.5M0,-0.85L0.2,-0.28L0.81,-0.26L0.32,0.11L0.5,0.69L0,0.34L-0.5,0.69L-0.32,0.11L-0.81,-0.26L-0.2,-0.28Z' : datum.value == '3.5 ms' ? 'M-5.5,0H5.5M0,-0.9L0.45,0L0,0.9L-0.45,0Z' : 'M-5.5,0H5.5M0.75,0A0.75,0.75,0,1,1,-0.75,0A0.75,0.75,0,1,1,0.75,0Z'"},"fill":{"signal":"datum.value == '2.5 ms' ? '#8c8c00' : 'transparent'"}}}}}}}},
{"data":{"name":"b"},"mark":{"type":"point","size":81,"strokeWidth":1.5,"opacity":1},
 "encoding":{
  "x":{"field":"f","type":"quantitative","scale":{"type":"log","domain":[10,470],"range":[811,1138],"nice":false},
   "axis":{"orient":"top","offset":-57,"values":[10,20,30,40,50,60,70,80,90,100,200,300,400,500],"labels":false,"ticks":true,"tickColor":"#262626","tickWidth":1,"tickSize":{"condition":{"test":"datum.value == 10 || datum.value == 100","value":-6},"value":-3.5},"domain":true,"domainColor":"#262626","domainWidth":1,"grid":false,
    "title":"B","titleFont":"Liberation Sans","titleFontSize":66,"titleFontWeight":"bold","titleColor":"black","titleAngle":0,"titleX":681.5,"titleY":230,"titleAlign":"center","titleBaseline":"alphabetic"}},
  "y":{"field":"v","type":"quantitative","scale":{"type":"linear","domain":[0,50],"range":[593,57],"nice":false,"zero":false},
   "axis":{"orient":"left","offset":-811,"values":[0,5,10,15,20,25,30,35,40,45,50],"labels":false,"ticks":true,"tickSize":-6,"tickColor":"#262626","tickWidth":1,"domain":true,"domainColor":"#262626","domainWidth":1,"grid":false,"title":null}},
  "stroke":{"field":"s","type":"nominal","scale":{"domain":["2.5 ms","3.5 ms","4.0 ms"],"range":["#8c8c00","#1a9a9a","#960096"]},"legend":null},
  "fill":{"field":"s","type":"nominal","scale":{"domain":["2.5 ms","3.5 ms","4.0 ms"],"range":["#8c8c00","transparent","transparent"]},"legend":null},
  "shape":{"field":"s","type":"nominal","scale":{"domain":["2.5 ms","3.5 ms","4.0 ms"],"range":["M0,-1L0.235,-0.324L0.951,-0.309L0.38,0.124L0.588,0.809L0,0.4L-0.588,0.809L-0.38,0.124L-0.951,-0.309L-0.235,-0.324Z","M0,-1L0.55,0L0,1L-0.55,0Z","circle"]},"legend":null}}},
{"data":{"name":"b"},"mark":{"type":"point","opacity":0},
 "encoding":{
  "x":{"field":"f","type":"quantitative","scale":{"type":"log","domain":[10,470],"range":[811,1138],"nice":false},
   "axis":{"orient":"bottom","offset":-759,"values":[10,20,30,40,50,60,70,80,90,100,200,300,400,500],"labels":false,"ticks":true,"tickColor":"#262626","tickWidth":1,"tickSize":{"condition":{"test":"datum.value == 10 || datum.value == 100","value":-6},"value":-3.5},"domain":true,"domainColor":"#262626","domainWidth":1,"grid":false,"title":null}},
  "y":{"field":"v","type":"quantitative","scale":{"type":"linear","domain":[0,50],"range":[593,57],"nice":false,"zero":false},"axis":null}}},

{"data":{"name":"c"},"mark":{"type":"line","strokeWidth":1.8},
 "encoding":{
  "x":{"field":"f","type":"quantitative","scale":{"type":"log","domain":[10,500],"range":[220,571],"nice":false},
   "axis":{"orient":"bottom","offset":-54,"values":[10,100],"ticks":false,"labels":true,"labelExpr":"datum.value == 10 ? '10¹' : '10²'","labelFont":"Liberation Sans","labelFontSize":13,"labelColor":"#262626","labelPadding":8,"labelFlush":false,"labelOverlap":false,"domain":true,"domainColor":"#262626","domainWidth":1,"grid":false,
    "title":"Modulation Frequency","titleFont":"Liberation Sans","titleFontSize":21.5,"titleFontWeight":"normal","titleColor":"black","titleAngle":0,"titleX":392.5,"titleY":47.5,"titleAlign":"center","titleBaseline":"alphabetic"}},
  "y":{"field":"v","type":"quantitative","scale":{"type":"linear","domain":[0,50],"range":[1298,733],"nice":false,"zero":false},
   "axis":{"orient":"left","offset":-220,"values":[0,5,10,15,20,25,30,35,40,45,50],"ticks":false,"labels":true,"labelFont":"Liberation Sans","labelFontSize":13,"labelColor":"#262626","labelPadding":4,"labelFlush":false,"labelOverlap":false,"domain":true,"domainColor":"#262626","domainWidth":1,"grid":false,
    "title":"-20*log₁₀(mᵢ)","titleFont":"Liberation Sans","titleFontSize":20.5,"titleFontWeight":"normal","titleColor":"black","titleAngle":270,"titleX":-42,"titleY":1015.5,"titleAlign":"center","titleBaseline":"alphabetic"}},
  "stroke":{"field":"s","type":"nominal","scale":{"domain":["0 ms","0.5 ms","1.0 ms","1.5 ms","2.0 ms"],"range":["black","black","black","black","black"]},
   "legend":{"orient":"none","legendX":228,"legendY":1144,"title":null,"padding":6,"strokeColor":"#262626","fillColor":"white","rowPadding":6.6,"labelFont":"Liberation Sans","labelFontSize":22,"labelColor":"black","labelOffset":16,"symbolOffset":15,"symbolSize":64,"symbolStrokeWidth":1.8,
    "encode":{"symbols":{"update":{"shape":{"signal":"datum.value == '0 ms' ? 'M-5.75,0H5.75M0,-0.85L0.6,0L0,0.85L-0.6,0Z' : datum.value == '0.5 ms' ? 'M-5.75,0H5.75M-1,-0.7L1,-0.7L0,1Z' : datum.value == '1.0 ms' ? 'M-5.75,0H5.75M-0.6,-0.6L0.6,0.6M-0.6,0.6L0.6,-0.6' : datum.value == '1.5 ms' ? 'M-5.75,0H5.75M0.75,0A0.75,0.75,0,1,1,-0.75,0A0.75,0.75,0,1,1,0.75,0Z' : 'M-5.75,0H5.75M-0.85,-0.85H0.85V0.85H-0.85Z'"},"fill":{"signal":"datum.value == '0 ms' ? 'black' : 'transparent'"}}}}}}}},
{"data":{"name":"c"},"mark":{"type":"point","size":100,"strokeWidth":1.5,"opacity":1,"stroke":"black"},
 "encoding":{
  "x":{"field":"f","type":"quantitative","scale":{"type":"log","domain":[10,500],"range":[220,571],"nice":false},
   "axis":{"orient":"top","offset":-733,"values":[10,20,30,40,50,60,70,80,90,100,200,300,400,500],"labels":false,"ticks":true,"tickColor":"#262626","tickWidth":1,"tickSize":{"condition":{"test":"datum.value == 10 || datum.value == 100","value":-6},"value":-3.5},"domain":true,"domainColor":"#262626","domainWidth":1,"grid":false,
    "title":"C","titleFont":"Liberation Sans","titleFontSize":66,"titleFontWeight":"bold","titleColor":"black","titleAngle":0,"titleX":33.5,"titleY":295,"titleAlign":"center","titleBaseline":"alphabetic"}},
  "y":{"field":"v","type":"quantitative","scale":{"type":"linear","domain":[0,50],"range":[1298,733],"nice":false,"zero":false},
   "axis":{"orient":"left","offset":-220,"values":[0,5,10,15,20,25,30,35,40,45,50],"labels":false,"ticks":true,"tickSize":-6,"tickColor":"#262626","tickWidth":1,"domain":true,"domainColor":"#262626","domainWidth":1,"grid":false,"title":null}},
  "fill":{"field":"s","type":"nominal","scale":{"domain":["0 ms","0.5 ms","1.0 ms","1.5 ms","2.0 ms"],"range":["black","transparent","transparent","transparent","transparent"]},"legend":null},
  "shape":{"field":"s","type":"nominal","scale":{"domain":["0 ms","0.5 ms","1.0 ms","1.5 ms","2.0 ms"],"range":["M0,-0.8L0.6,0L0,0.8L-0.6,0Z","M-1.05,-0.75L1.05,-0.75L0,1.1Z","M-0.6,-0.6L0.6,0.6M-0.6,0.6L0.6,-0.6","M0.8,0A0.8,0.8,0,1,1,-0.8,0A0.8,0.8,0,1,1,0.8,0Z","M-1,-1H1V1H-1Z"]},"legend":null}}},
{"data":{"name":"c"},"mark":{"type":"point","opacity":0},
 "encoding":{
  "x":{"field":"f","type":"quantitative","scale":{"type":"log","domain":[10,500],"range":[220,571],"nice":false},
   "axis":{"orient":"bottom","offset":-54,"values":[10,20,30,40,50,60,70,80,90,100,200,300,400,500],"labels":false,"ticks":true,"tickColor":"#262626","tickWidth":1,"tickSize":{"condition":{"test":"datum.value == 10 || datum.value == 100","value":-6},"value":-3.5},"domain":true,"domainColor":"#262626","domainWidth":1,"grid":false,"title":null}},
  "y":{"field":"v","type":"quantitative","scale":{"type":"linear","domain":[0,50],"range":[1298,733],"nice":false,"zero":false},
   "axis":{"orient":"right","offset":-567,"values":[0,5,10,15,20,25,30,35,40,45,50],"labels":false,"ticks":true,"tickSize":-6,"tickColor":"#262626","tickWidth":1,"domain":true,"domainColor":"#262626","domainWidth":1,"grid":false,"title":null}}}},

{"data":{"name":"d"},"mark":{"type":"line","strokeWidth":1.5,"color":"black"},
 "encoding":{
  "x":{"field":"f","type":"quantitative","scale":{"type":"log","domain":[10,434.6],"range":[806,1138],"nice":false},
   "axis":{"orient":"bottom","offset":-58,"values":[10,100],"ticks":false,"labels":true,"labelExpr":"datum.value == 10 ? '10¹' : '10²'","labelFont":"Liberation Sans","labelFontSize":13,"labelColor":"#262626","labelPadding":7,"labelFlush":false,"labelOverlap":false,"domain":true,"domainColor":"#262626","domainWidth":1,"grid":false,
    "title":"Modulation Frequency","titleFont":"Liberation Sans","titleFontSize":21,"titleFontWeight":"normal","titleColor":"black","titleAngle":0,"titleX":976.7,"titleY":49.3,"titleAlign":"center","titleBaseline":"alphabetic"}},
  "y":{"field":"v","type":"quantitative","scale":{"type":"linear","domain":[0,50],"range":[1294,737],"nice":false,"zero":false},
   "axis":{"orient":"left","offset":-806,"values":[0,5,10,15,20,25,30,35,40,45,50],"ticks":false,"labels":true,"labelFont":"Liberation Sans","labelFontSize":13,"labelColor":"#262626","labelPadding":4,"labelFlush":false,"labelOverlap":false,"domain":true,"domainColor":"#262626","domainWidth":1,"grid":false,
    "title":"-20*log₁₀(mᵢ)","titleFont":"Liberation Sans","titleFontSize":20.5,"titleFontWeight":"normal","titleColor":"black","titleAngle":270,"titleX":-41,"titleY":1015.5,"titleAlign":"center","titleBaseline":"alphabetic"}},
  "strokeDash":{"field":"s","type":"nominal","scale":{"domain":["100 fibers","50 fibers","25 fibers"],"range":[[1,0],[8,4],[7,3,2,3]]},
   "legend":{"orient":"none","legendX":813,"legendY":1199,"title":null,"padding":5.5,"strokeColor":"#262626","fillColor":"white","rowPadding":5.5,"labelFont":"Liberation Sans","labelFontSize":22,"labelColor":"black","labelOffset":15.5,"symbolOffset":16.5,"symbolSize":64,"symbolStrokeWidth":1.5,"symbolStrokeColor":"black","symbolFillColor":"transparent",
    "symbolType":"M-5.6,0H5.6M0.8,0A0.8,0.8,0,1,1,-0.8,0A0.8,0.8,0,1,1,0.8,0Z"}}}},
{"data":{"name":"d"},"mark":{"type":"point","size":81,"strokeWidth":1.3,"opacity":1,"stroke":"black","fill":"transparent","shape":"circle"},
 "encoding":{
  "x":{"field":"f","type":"quantitative","scale":{"type":"log","domain":[10,434.6],"range":[806,1138],"nice":false},
   "axis":{"orient":"top","offset":-737,"values":[10,20,30,40,50,60,70,80,90,100,200,300,400,500],"labels":false,"ticks":true,"tickColor":"#262626","tickWidth":1,"tickSize":{"condition":{"test":"datum.value == 10 || datum.value == 100","value":-6},"value":-3.5},"domain":true,"domainColor":"#262626","domainWidth":1,"grid":false,
    "title":"D","titleFont":"Liberation Sans","titleFontSize":66,"titleFontWeight":"bold","titleColor":"black","titleAngle":0,"titleX":685,"titleY":291,"titleAlign":"center","titleBaseline":"alphabetic"}},
  "y":{"field":"v","type":"quantitative","scale":{"type":"linear","domain":[0,50],"range":[1294,737],"nice":false,"zero":false},
   "axis":{"orient":"left","offset":-806,"values":[0,5,10,15,20,25,30,35,40,45,50],"labels":false,"ticks":true,"tickSize":-6,"tickColor":"#262626","tickWidth":1,"domain":true,"domainColor":"#262626","domainWidth":1,"grid":false,"title":null}}}},
{"data":{"name":"d"},"mark":{"type":"point","opacity":0},
 "encoding":{
  "x":{"field":"f","type":"quantitative","scale":{"type":"log","domain":[10,434.6],"range":[806,1138],"nice":false},
   "axis":{"orient":"bottom","offset":-58,"values":[10,20,30,40,50,60,70,80,90,100,200,300,400,500],"labels":false,"ticks":true,"tickColor":"#262626","tickWidth":1,"tickSize":{"condition":{"test":"datum.value == 10 || datum.value == 100","value":-6},"value":-3.5},"domain":true,"domainColor":"#262626","domainWidth":1,"grid":false,"title":null}},
  "y":{"field":"v","type":"quantitative","scale":{"type":"linear","domain":[0,50],"range":[1294,737],"nice":false,"zero":false},"axis":null}}}
],
"resolve": {
 "scale": {"x":"independent","y":"independent","color":"independent","stroke":"independent","fill":"independent","shape":"independent","strokeDash":"independent","size":"independent","opacity":"independent"},
 "axis": {"x":"independent","y":"independent"},
 "legend": {"stroke":"independent","fill":"independent","shape":"independent","strokeDash":"independent"}
}
}
